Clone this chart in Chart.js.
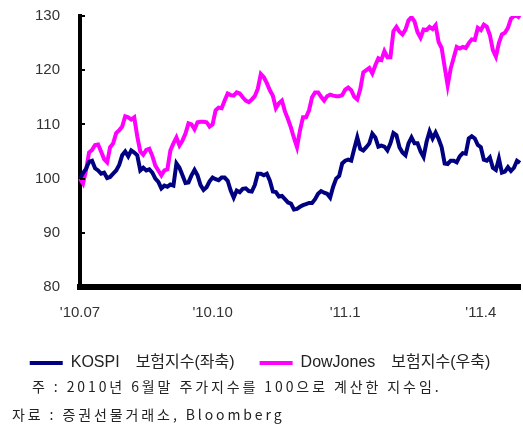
<!DOCTYPE html>
<html>
<head>
<meta charset="utf-8">
<script src="https://cdn.jsdelivr.net/npm/chart.js@4.4.1/dist/chart.umd.min.js"></script>
<style>
  body { margin: 0; background: #fff; }
  #wrap { position: relative; width: 523px; height: 425px; }
  .note { position: absolute; font-family: "Noto Sans CJK KR", sans-serif; font-size: 14px; line-height: 16px; color: #222; white-space: pre; letter-spacing: 2.9px; }
</style>
</head>
<body>
<div id="wrap">
  <canvas id="chart" width="523" height="425"></canvas>
  <div class="note" style="left:32px;top:378px">주 : 2010년 6월말 주가지수를 100으로 계산한 지수임.</div>
  <div class="note" style="left:12px;top:406px">자료 : 증권선물거래소, Bloomberg</div>
</div>
<script>
// 2010.07 ~ 2011.05, 약 이틀 간격 값 (2010년 6월말 = 100)
const monthLabels = ["'10.07", "'10.10", "'11.1", "'11.4"];
const monthIndex = [0, 44, 88, 133];

const kospi = [100.0,101.0,101.8,103.1,103.3,101.9,101.5,100.9,101.1,100.1,
  100.3,100.9,101.5,102.5,104.3,105.0,104.1,105.2,104.8,104.3,
  101.5,102.0,101.5,101.7,101.1,100.0,99.4,98.2,98.7,98.5,
  98.9,98.7,102.8,102.0,100.6,99.2,99.3,100.6,101.6,100.6,
  98.8,97.9,98.4,99.5,100.2,99.9,99.7,100.2,100.2,99.6,
  97.8,96.5,97.8,97.5,98.1,98.2,97.7,97.6,98.8,100.9,
  100.9,100.6,100.9,99.6,97.6,97.5,96.7,96.8,96.2,95.6,
  95.4,94.3,94.4,94.8,95.1,95.3,95.5,95.5,96.2,97.2,
  97.7,97.4,97.2,96.5,98.5,100.0,100.5,102.8,103.3,103.5,
  103.3,105.5,107.6,105.5,105.2,105.8,106.5,108.3,107.6,105.9,
  106.1,105.9,105.2,106.5,108.4,108.0,105.8,104.8,104.3,106.5,
  107.6,106.5,106.5,105.0,104.0,106.8,108.7,107.4,108.5,107.3,
  105.8,102.8,102.7,103.3,103.3,103.0,104.1,104.7,104.6,107.4,
  107.8,107.4,106.2,105.8,103.5,103.3,103.9,102.0,101.6,103.7,
  101.1,101.3,102.1,101.4,102.0,103.3,102.9];

const dowJones = [100.0,99.1,101.5,104.8,105.3,106.2,106.3,105.0,103.6,103.0,
  105.8,106.5,108.4,108.9,109.6,111.5,111.3,110.9,111.3,107.8,
  105.0,104.4,105.3,105.5,104.2,102.4,101.5,100.6,101.5,101.7,
  105.2,106.5,107.6,106.1,107.0,108.3,110.2,110.0,109.1,110.4,
  110.5,110.5,110.4,109.6,110.0,112.6,113.1,113.0,114.4,115.7,
  115.4,115.3,115.9,115.7,115.0,114.4,114.1,114.6,115.2,116.6,
  119.3,118.7,117.6,116.3,115.3,113.0,113.9,114.4,112.4,111.0,
  109.4,107.5,105.8,108.9,111.3,111.3,112.6,115.0,115.9,115.9,
  115.1,114.4,115.2,115.5,115.3,115.2,115.2,115.4,116.4,116.8,
  116.3,115.1,114.6,116.5,119.6,120.0,120.4,119.4,120.9,122.2,
  121.9,123.5,122.4,122.4,127.2,128.0,127.1,126.6,127.5,129.2,
  129.8,129.0,127.0,126.0,127.5,127.4,128.0,127.6,128.3,125.2,
  124.1,120.6,117.2,120.3,122.3,124.3,124.0,124.3,124.1,125.0,
  125.7,125.6,127.8,127.4,128.4,128.0,126.5,123.7,122.5,125.0,
  126.6,126.9,127.8,129.5,130.0,130.0,129.6];

const yMin = 80, yMax = 130, yStep = 10;

// x축 라벨: 월 시작 위치에만 표시
const labels = kospi.map(() => '');
monthIndex.forEach((idx, i) => { labels[idx] = monthLabels[i]; });

// y축 안쪽 눈금
const insideTicks = {
  id: 'insideTicks',
  afterDatasetsDraw(chart) {
    const y = chart.scales.y;
    const ctx = chart.ctx;
    const left = chart.chartArea.left;
    ctx.save();
    ctx.strokeStyle = '#000';
    ctx.lineWidth = 2;
    y.ticks.forEach(t => {
      if (t.value === yMin) return;
      const py = Math.round(y.getPixelForValue(t.value));
      ctx.beginPath();
      ctx.moveTo(left, py);
      ctx.lineTo(left + 5, py);
      ctx.stroke();
    });
    ctx.restore();
  }
};

const tickFont = { family: '"Liberation Sans", Arial, sans-serif', size: 15 };

new Chart(document.getElementById('chart'), {
  type: 'line',
  data: {
    labels: labels,
    datasets: [{
      label: 'KOSPI\u2003보험지수(좌축)',
      data: kospi,
      borderColor: '#000080',
      backgroundColor: '#000080',
      borderWidth: 4,
      pointRadius: 0,
      tension: 0
    }, {
      label: 'DowJones\u2003보험지수(우축)',
      data: dowJones,
      borderColor: '#ff00ff',
      backgroundColor: '#ff00ff',
      borderWidth: 4,
      pointRadius: 0,
      tension: 0
    }]
  },
  options: {
    responsive: false,
    animation: false,
    layout: { padding: { top: 16, right: 3, left: 0, bottom: 44 } },
    plugins: {
      tooltip: { enabled: false },
      legend: {
        position: 'bottom',
        labels: {
          boxWidth: 33,
          boxHeight: 4,
          padding: 25,
          color: '#222',
          font: { family: '"Liberation Sans", "Noto Sans CJK KR", sans-serif', size: 16 },
          generateLabels(chart) {
            const items = Chart.defaults.plugins.legend.labels.generateLabels(chart);
            items.forEach(it => { it.lineWidth = 0; });
            return items;
          }
        }
      }
    },
    scales: {
      x: {
        type: 'category',
        offset: false,
        grid: { display: false },
        border: { display: true, color: '#000', width: 6 },
        ticks: {
          autoSkip: false,
          maxRotation: 0,
          padding: 8.5,
          color: '#333',
          font: tickFont,
          callback: (v, i) => labels[i]
        },
        afterFit(scale) { scale.paddingRight = 0; }
      },
      y: {
        min: yMin,
        max: yMax,
        grid: { display: false },
        border: { display: true, color: '#000', width: 4 },
        ticks: { stepSize: yStep, padding: 12, color: '#333', font: tickFont },
        afterFit(scale) { scale.width = 80; scale.paddingTop = 0; scale.paddingBottom = 0; }
      }
    }
  },
  plugins: [insideTicks]
});
</script>
</body>
</html>
